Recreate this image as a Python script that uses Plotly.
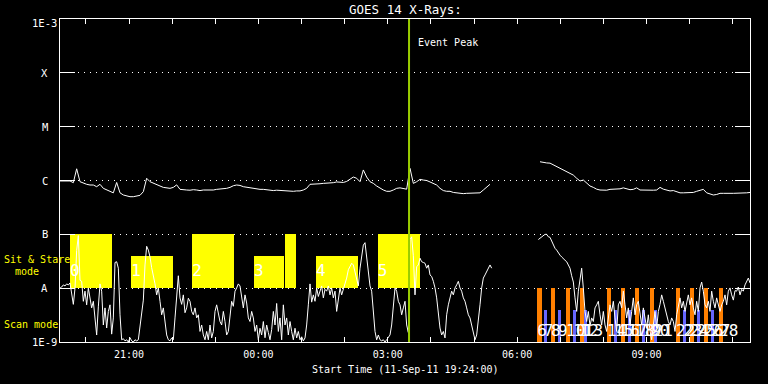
import math
import pandas as pd
import plotly.graph_objects as go

# ---------------- data ----------------
START = "2011-09-11 19:24:00"
END = "2011-09-12 11:24:00"
EVENT_PEAK = "2011-09-12 03:29:36"

# GOES-14 short channel (0.5-4 A), units of 1e-9 W/m^2, evenly sampled START..END
short_flux_1e9 = [
    10, 10.5, 11.5, 11, 12, 11.5, 12.5, 8.5, 5, 10,
    50, 95, 14, 13.4, 5.7, 8.8, 4.9, 10.1, 6.6, 4.3,
    5.7, 2.4, 1.35, 4.5, 12, 8.8, 2.07, 4.3, 1.82, 3.7,
    4.9, 1.4, 2.8, 30, 31, 23.5, 3.2, 1.1, 1.15, 1.05,
    1.1, 1.0, 1.2, 1.05, 1.0, 1.1, 1.05, 1.1, 2.07, 3.7,
    6, 27, 60, 51, 38, 24, 17.6, 12, 7.5, 10.1,
    5.7, 3.2, 4.3, 2.4, 1.35, 1.1, 1.05, 1.19, 1.1, 2.8,
    8.8, 17, 6.6, 5, 7.5, 3.5, 4.3, 6.5, 5.7, 3.7,
    3.2, 4.3, 2.8, 3.2, 1.57, 2.07, 1.35, 1.1, 1.57, 1.1,
    2.07, 1.19, 1.57, 3.7, 4.9, 3.2, 2.4, 2.07, 3.7, 2.4,
    1.35, 1.57, 2.8, 5.7, 4.6, 8.8, 10.1, 12, 11, 6.6,
    4.3, 7.5, 5.3, 2.8, 2.4, 3.7, 2.8, 1.57, 2.07, 1.1,
    1.8, 1.35, 2.4, 1.2, 2.07, 1.5, 1.1, 1.7, 3.7, 2.07,
    5.2, 1.57, 2.8, 1.1, 4.9, 2.07, 2.8, 1.35, 2.4, 1.57,
    1.1, 1.8, 1.19, 1.57, 1.1, 1.25, 1.05, 1.19, 2.07, 4.9,
    12, 5.5, 7.5, 5.7, 10.1, 7, 8.8, 11, 6.6, 9.5,
    8.8, 11, 7.5, 10.1, 6.6, 8.8, 3.7, 6.6, 10.1, 7.5,
    9.5, 11, 15.4, 22, 26, 29, 27, 20.5, 14, 11,
    23.5, 41, 63, 70, 36, 17.6, 11, 8.8, 3.7, 1.57,
    1.1, 1.35, 1.1, 1.05, 1.1, 1.0, 1.1, 1.19, 1.35, 2.07,
    4.9, 10.1, 8.8, 5.7, 4.9, 3.2, 4.3, 5.7, 2.07, 1.5,
    80, 90, 40, 7.5, 25, 27, 36, 31, 30, 29,
    23.5, 27, 17.6, 16.5, 13.4, 10.1, 6.6, 3.2, 1.82, 1.35,
    1.57, 1.19, 3.2, 4.9, 6.6, 8.8, 7.5, 10.1, 11.5, 13.4,
    10.1, 8.8, 6.6, 5.7, 4.3, 3.2, 2.8, 2.07, 1.35, 1.1,
    1.35, 2.4, 4.9, 10.1, 15.4, 17.6, 20.5, 23.5, 27, 23.5,
    None, None, None, None, None, None, None, None, None, None,
    None, None, None, None, None, None, None, None, None, None,
    None, None, None, None, None, None, None, 80, 85, 88,
    95, 100, 100, 90, 88, 75, 63, 55, 51, 45,
    41, 38, 36, 33, 31, 27, 23.5, 17, 13, 6.6,
    3.7, 8.8, 13.4, 23.5, 10, 3.7, 2.4, 3.7, 2.0, 2.8,
    2.4, 4.3, 4.9, 5.7, 3.2, 2.07, 3.7, 2.07, 1.57, 2.8,
    4.9, 3.7, 5.7, 2.8, 1.57, 4.9, 5.7, 4.3, 8.8, 4.9,
    2.8, 4.3, 2.07, 3.7, 6.6, 3.2, 4.9, 5.7, 3.7, 2.07,
    4.3, 2.8, 1.82, 3.2, 1.57, 1.1, 2.07, 3.7, 1.82, 3.7,
    5, 7.5, 5.7, 4.3, 3.2, 2.4, 2.07, 2.8, 2.4, 1.57,
    3.2, 4.9, 6.6, 4.3, 5.7, 3.7, 5.7, 7.5, 4.9, 6.6,
    4.3, 3.2, 5.7, 3.7, 10.1, 13, 8.8, 4.9, 4.3, 5.7,
    3.7, 8.8, 5.7, 4.3, 6.6, 4.9, 3.7, 4.9, 5.7, 7.5,
    4.9, 8.8, 10.1, 7.5, 6, 9, 8.8, 10.5, 7.5, 9.5,
    8.8, 11.5, 13.4, 15.4, 12.5,
]

# GOES-14 long channel (1-8 A), units of 1e-6 W/m^2, evenly sampled START..END
long_flux_1e6 = [
    0.98, 0.98, 0.98, 0.98, 0.91, 1.65, 0.95, 0.885, 0.85, 0.825,
    0.825, 0.767, 0.85, 0.715, 0.666, 0.62, 0.59, 0.92, 0.59, 0.538,
    0.52, 0.50, 0.50, 0.52, 0.53, 0.62, 1.10, 0.95, 0.885, 0.825,
    0.79, 0.745, 0.72, 0.715, 0.745, 0.83, 0.685, 0.666, 0.666, 0.66,
    0.675, 0.666, 0.65, 0.666, 0.66, 0.675, 0.666, 0.685, 0.69, 0.70,
    0.715, 0.745, 0.80, 0.825, 0.81, 0.767, 0.745, 0.73, 0.72, 0.70,
    0.685, 0.685, 0.666, 0.66, 0.65, 0.66, 0.65, 0.64, 0.64, 0.63,
    0.63, 0.64, 0.64, 0.666, 0.715, 0.85, 0.85, 0.865, 0.87, 0.885,
    0.885, 0.89, 0.91, 0.94, 0.92, 0.92, 0.96, 1.05, 1.16, 1.10,
    0.95, 1.57, 1.16, 0.95, 0.885, 0.79, 0.715, 0.666, 0.63, 0.63,
    0.666, 0.715, 0.73, 0.715, 0.69, 1.68, 0.885, 0.95, 1.05, 1.02,
    1.0, 0.94, 0.885, 0.825, 0.715, 0.65, 0.63, 0.63, 0.60, 0.59,
    0.578, 0.57, 0.578, 0.578, 0.585, 0.578, 0.59, 0.666, 0.767, 0.85,
    None, None, None, None, None, None, None, None, None, None,
    None, None, None, None, 2.23, 2.15, 2.12, 2.10, 1.95, 1.81,
    1.68, 1.57, 1.46, 1.36, 1.26, 1.10, 0.98, 1.02, 0.885, 0.79,
    0.745, 0.69, 0.666, 0.66, 0.66, 0.685, 0.685, 0.69, 0.70, 0.73,
    0.69, 0.675, 0.685, 0.73, 0.666, 0.66, 0.66, 0.66, 0.66, 0.666,
    0.745, 0.69, 0.666, 0.64, 0.65, 0.61, 0.59, 0.59, 0.59, 0.59,
    0.60, 0.63, 0.666, 0.685, 0.59, 0.565, 0.538, 0.55, 0.578, 0.578,
    0.57, 0.578, 0.578, 0.578, 0.578, 0.585, 0.59, 0.60,
]

# Sit & Stare mode observation windows
stare_start = ["2011-09-11 19:38", "2011-09-11 21:03", "2011-09-11 22:28", "2011-09-11 23:54",
               "2011-09-12 00:37", "2011-09-12 01:20", "2011-09-12 02:46"]
stare_end = ["2011-09-11 20:36", "2011-09-11 22:01", "2011-09-11 23:26", "2011-09-12 00:36",
             "2011-09-12 00:52", "2011-09-12 02:19", "2011-09-12 03:45"]
stare_top = [1e-7, 4e-8, 1e-7, 4e-8, 1e-7, 4e-8, 1e-7]
stare_label = ["0", "1", "2", "3", "", "4", "5"]

# Scan mode observations
scan_start = ["2011-09-12 06:28", "2011-09-12 06:37", "2011-09-12 06:47", "2011-09-12 06:57",
              "2011-09-12 07:08", "2011-09-12 07:18", "2011-09-12 07:27", "2011-09-12 07:33",
              "2011-09-12 08:05", "2011-09-12 08:15", "2011-09-12 08:24", "2011-09-12 08:34",
              "2011-09-12 08:44", "2011-09-12 08:54", "2011-09-12 09:05", "2011-09-12 09:10",
              "2011-09-12 09:41", "2011-09-12 09:51", "2011-09-12 10:00", "2011-09-12 10:10",
              "2011-09-12 10:20", "2011-09-12 10:30", "2011-09-12 10:41"]
scan_minutes = [6, 4.3, 6, 4.3, 6, 4.3, 6, 4.3, 6, 4.3, 6, 4.3,
                6, 4.3, 6, 4.3, 6, 4.3, 6, 4.3, 6, 4.3, 6]
scan_top = [1e-8, 3.9e-9] * 11 + [1e-8]
scan_label = [str(i) for i in range(6, 29)]

# axis labels
y_tick_vals = [1e-9, 1e-8, 1e-7, 1e-6, 1e-5, 1e-4, 1e-3]
y_tick_text = ["1E-9", "A", "B", "C", "M", "X", "1E-3"]
x_label_times = ["2011-09-11 21:00", "2011-09-12 00:00", "2011-09-12 03:00",
                 "2011-09-12 06:00", "2011-09-12 09:00"]
x_label_text = ["21:00", "00:00", "03:00", "06:00", "09:00"]

# ---------------- figure ----------------
FONT = "DejaVu Sans Mono"
YELLOW = "#ffff00"
ORANGE = "#ff8000"
BLUE = "#6666ff"
GREEN = "#9acd00"

short_t = pd.date_range(START, END, periods=len(short_flux_1e9))
long_t = pd.date_range(START, END, periods=len(long_flux_1e6))
short_flux = [None if v is None else v * 1e-9 for v in short_flux_1e9]
long_flux = [None if v is None else v * 1e-6 for v in long_flux_1e6]

fig = go.Figure()

# Sit & stare boxes (from A level up)
st_w = [(pd.Timestamp(e) - pd.Timestamp(s)).total_seconds() * 1000 for s, e in zip(stare_start, stare_end)]
fig.add_trace(go.Bar(x=stare_start, y=[t - 1e-8 for t in stare_top], base=[1e-8] * len(stare_top),
                     width=st_w, offset=0, marker=dict(color=YELLOW, line=dict(width=0)),
                     showlegend=False, hoverinfo="skip"))

# Scan bars
sc_w = [m * 60000 for m in scan_minutes]
sc_col = [ORANGE if i % 2 == 0 else BLUE for i in range(len(scan_start))]
fig.add_trace(go.Bar(x=scan_start, y=[t - 1e-9 for t in scan_top], base=[1e-9] * len(scan_top),
                     width=sc_w, offset=0, marker=dict(color=sc_col, line=dict(width=0)),
                     showlegend=False, hoverinfo="skip"))

# curves
fig.add_trace(go.Scatter(x=short_t, y=short_flux, mode="lines", line=dict(color="white", width=1),
                         connectgaps=False, showlegend=False))
fig.add_trace(go.Scatter(x=long_t, y=long_flux, mode="lines", line=dict(color="white", width=1),
                         connectgaps=False, showlegend=False))

# labels on boxes and scans
fig.add_trace(go.Scatter(x=stare_start, y=[2.0e-8] * len(stare_start), mode="text", text=stare_label,
                         textposition="middle right", textfont=dict(color="white", size=16, family=FONT),
                         showlegend=False))
fig.add_trace(go.Scatter(x=scan_start, y=[1.53e-9] * len(scan_start), mode="text", text=scan_label,
                         textposition="middle right", textfont=dict(color="white", size=16, family=FONT),
                         showlegend=False))

# event peak line
fig.add_shape(type="line", xref="x", yref="paper", x0=EVENT_PEAK, x1=EVENT_PEAK, y0=0, y1=1,
              line=dict(color=GREEN, width=2))

# x ticks: hourly, labelled every 3 hours
hour_ticks = pd.date_range("2011-09-11 20:00", "2011-09-12 11:00", freq="h")
lab = {pd.Timestamp(t): s for t, s in zip(x_label_times, x_label_text)}
hour_text = [lab.get(t, "") for t in hour_ticks]

fig.update_layout(
    width=768, height=384,
    margin=dict(l=60, r=18, t=19, b=42),
    paper_bgcolor="black", plot_bgcolor="black",
    barmode="overlay", bargap=0,
    font=dict(family=FONT, color="white", size=10),
    xaxis=dict(type="date", range=[START, END], showgrid=False, zeroline=False,
               showline=True, linecolor="white", linewidth=1, mirror="allticks",
               ticks="inside", ticklen=5, tickcolor="white", tickwidth=1,
               tickvals=list(hour_ticks), ticktext=hour_text, ticklabelstandoff=3,
               tickfont=dict(family=FONT, size=10, color="white")),
    yaxis=dict(type="log", range=[-9, -3], showline=True, linecolor="white", linewidth=1,
               mirror="allticks", ticks="inside", ticklen=15, tickcolor="white", tickwidth=1,
               tickvals=y_tick_vals, showticklabels=False, zeroline=False,
               showgrid=True, gridcolor="white", gridwidth=1, griddash="1px,5px"),
)

ann = []
for v, t in zip(y_tick_vals, y_tick_text):
    ann.append(dict(xref="paper", yref="y", x=-15.5 / 690, y=math.log10(v), text=t,
                    showarrow=False, xanchor="center", yanchor="middle",
                    yshift=-4 if v == 1e-3 else 0,
                    font=dict(family=FONT, size=10.5, color="white")))
ann += [
    dict(xref="paper", yref="paper", x=0.5, y=(342 - 9.5) / 323, text="GOES 14 X-Rays:",
         showarrow=False, xanchor="center", yanchor="middle",
         font=dict(family=FONT, size=12.5, color="white")),
    dict(xref="x", yref="paper", x=EVENT_PEAK, y=(342 - 43) / 323, text="Event Peak",
         showarrow=False, xanchor="left", yanchor="middle", xshift=7,
         font=dict(family=FONT, size=10, color="white")),
    dict(xref="paper", yref="paper", x=0.5, y=(342 - 369) / 323,
         text="Start Time (11-Sep-11 19:24:00)", showarrow=False, xanchor="center", yanchor="middle",
         font=dict(family=FONT, size=10, color="white")),
    dict(xref="paper", yref="paper", x=-58 / 690, y=(342 - 259) / 323, text="Sit & Stare",
         showarrow=False, xanchor="left", yanchor="middle", font=dict(family=FONT, size=10, color=YELLOW)),
    dict(xref="paper", yref="paper", x=-47 / 690, y=(342 - 271) / 323, text="mode",
         showarrow=False, xanchor="left", yanchor="middle", font=dict(family=FONT, size=10, color=YELLOW)),
    dict(xref="paper", yref="paper", x=-58 / 690, y=(342 - 324) / 323, text="Scan mode",
         showarrow=False, xanchor="left", yanchor="middle", font=dict(family=FONT, size=10, color=YELLOW)),
]
fig.update_layout(annotations=ann)

# page body has a default 8px margin; remove it so the figure sits at the window's origin
fig.write_html("out.html", config={"displayModeBar": False},
               post_script="document.body.style.margin='0';")
